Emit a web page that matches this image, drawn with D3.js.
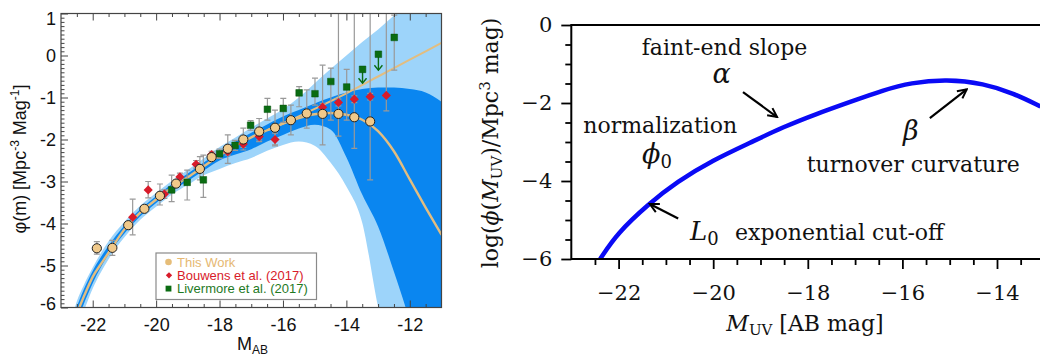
<!DOCTYPE html>
<html>
<head>
<meta charset="utf-8">
<script src="https://cdn.jsdelivr.net/npm/d3@7"></script>
<style>
  html, body { margin: 0; padding: 0; background: #fff; }
  svg { display: block; }
</style>
</head>
<body>
<svg id="chart" width="1040" height="356"></svg>
<script>
// ---------------- Left panel: UV luminosity function data ----------------
const thisWorkM   = [-21.87, -21.38, -20.88, -20.37, -19.88, -19.37, -18.62, -18.25, -17.74, -17.25, -16.75, -16.25, -15.75, -15.25, -14.75, -14.25, -13.75, -13.25];
const thisWorkPhi = [-4.59, -4.58, -4.04, -3.65, -3.34, -3.05, -2.70, -2.42, -2.22, -2.00, -1.81, -1.72, -1.54, -1.38, -1.39, -1.39, -1.47, -1.57];
const thisWorkLo  = [-4.73, -4.76, -4.12, -3.72, -3.56, -3.13, -2.96, -2.50, -2.57, -2.25, -2.05, -2.13, -1.89, -1.73, -2.13, -1.92, -2.21, -2.96];
const thisWorkHi  = [-4.43, -4.40, -3.96, -3.58, -3.06, -2.97, -2.41, -2.34, -1.89, -1.73, -1.50, -1.30, -1.18, -0.82, -0.23, 1.5, 1.5, 1.5];

const bouwensM   = [-20.74, -20.25, -19.74, -19.25, -18.74, -18.25, -17.74, -17.25, -16.75, -16.25, -14.75, -14.25, -13.75, -13.25, -12.74];
const bouwensPhi = [-3.85, -3.20, -3.30, -2.89, -2.59, -2.36, -2.29, -2.11, -1.93, -2.00, -1.23, -1.12, -1.04, -0.98, -0.95];
const bouwensLo  = [-4.27, -3.39, -3.40, -2.98, -2.68, -2.44, -2.37, -2.19, -2.01, -2.15, -1.32, -1.20, -1.12, -1.06, -1.32];
const bouwensHi  = [-3.42, -3.00, -3.20, -2.80, -2.50, -2.28, -2.21, -2.03, -1.85, -1.85, -1.14, -1.04, -0.96, -0.90, 1.5];

const livermoreM     = [-19.51, -19.02, -18.51, -18.0, -17.51, -17.02, -16.49, -15.99, -15.49, -14.99, -14.49, -13.99, -13.49, -12.99, -12.49];
const livermorePhi   = [-3.20, -3.02, -2.96, -2.34, -2.14, -1.66, -1.28, -1.26, -0.89, -0.91, -0.62, -0.75, -0.33, 0.03, 0.43];
const livermoreLo    = [-3.48, -3.44, -3.38, -2.45, -2.26, -1.78, -1.54, -1.59, -1.22, -1.18, -1.54, -1.54, null, null, -0.35];
const livermoreHi    = [-2.85, -2.73, -2.37, -2.23, -2.02, -1.55, -1.02, -1.02, -0.74, -0.54, -0.30, -0.33, null, null, 0.96];
const livermoreLimit = [null, null, null, null, null, null, null, null, null, null, null, null, -0.66, -0.35, null];

// best-fit curve with turnover, and the pure power-law continuation
const fitM   = [-22.6, -22.42, -22.2, -22.0, -21.7, -21.4, -21.0, -20.5, -20.0, -19.5, -19.0, -18.5, -18.0, -17.5, -17.0, -16.5, -16.0, -15.5, -15.0, -14.5, -14.0, -13.5, -13.0, -12.5, -12.0, -11.5, -11.0];
const fitPhi = [-6.4, -6.0, -5.6, -5.27, -4.92, -4.58, -4.14, -3.74, -3.43, -3.14, -2.90, -2.64, -2.38, -2.15, -1.95, -1.78, -1.62, -1.49, -1.40, -1.37, -1.41, -1.53, -1.80, -2.28, -2.95, -3.62, -4.27];
const powerLawM   = [-16.5, -16.0, -15.0, -14.0, -13.0, -12.0, -11.0];
const powerLawPhi = [-1.78, -1.62, -1.27, -0.90, -0.50, -0.10, 0.30];

// confidence bands (inner = 68%, outer = 95%)
const bandM   = [-22.7, -22.5, -22.3, -22.0, -21.5, -21.0, -20.5, -20.0, -19.5, -19.0, -18.5, -18.0, -17.5, -17.0, -16.5, -16.0, -15.5, -15.0, -14.5, -14.0, -13.5, -13.0, -12.5, -12.0, -11.5, -11.0];
const lightHi = [-6.4, -5.85, -5.5, -5.05, -4.42, -3.96, -3.58, -3.27, -2.98, -2.72, -2.45, -2.18, -1.95, -1.72, -1.50, -1.28, -1.00, -0.66, -0.32, 0.0, 0.32, 0.62, 0.95, 1.28, 1.6, 1.9];
const lightLo = [-7.3, -6.5, -6.12, -5.55, -4.85, -4.33, -3.91, -3.60, -3.31, -3.08, -2.85, -2.70, -2.56, -2.44, -2.27, -2.13, -2.05, -2.15, -2.55, -3.12, -3.98, -5.98, -7.5, -9, -9, -9];
const darkHi  = [-6.3, -5.97, -5.6, -5.13, -4.53, -4.05, -3.66, -3.35, -3.06, -2.81, -2.55, -2.29, -2.05, -1.84, -1.64, -1.45, -1.30, -1.14, -1.00, -0.88, -0.80, -0.76, -0.76, -0.80, -0.88, -1.10];
const darkLo  = [-7.0, -6.35, -5.95, -5.42, -4.74, -4.24, -3.83, -3.51, -3.22, -2.99, -2.74, -2.50, -2.36, -2.23, -2.05, -1.89, -1.74, -1.65, -1.76, -2.42, -3.31, -4.07, -5.15, -6.35, -8, -9];

const leftXTicks = [-22, -20, -18, -16, -14, -12];
const leftYTicks = [-6, -5, -4, -3, -2, -1, 0, 1];
const legendLabels = ["This Work", "Bouwens et al. (2017)", "Livermore et al. (2017)"];

// ---------------- Right panel: schematic luminosity function ----------------
const schemM   = [-22.39, -22.03, -21.37, -20.77, -20.0, -19.22, -18.51, -17.82, -17.10, -16.40, -15.83, -15.06, -14.28, -13.65, -13.08];
const schemPhi = [-6.0, -5.34, -4.59, -4.02, -3.46, -3.02, -2.61, -2.28, -1.97, -1.67, -1.48, -1.39, -1.50, -1.75, -2.09];
const rightXTicks = [-22, -20, -18, -16, -14];
const rightYTicks = [-6, -4, -2, 0];

const svg = d3.select("#chart");
const defs = svg.append("defs");

// ===== LEFT PANEL =====
const sans = "'Liberation Sans', Arial, Helvetica, sans-serif";
const xL = d3.scaleLinear().domain([-23, -11]).range([61, 441.5]);
const yL = d3.scaleLinear().domain([-6, 1]).range([307.5, 13.5]);

defs.append("clipPath").attr("id", "clipL")
  .append("rect").attr("x", xL(-23)).attr("y", yL(1))
  .attr("width", xL(-11) - xL(-23)).attr("height", yL(-6) - yL(1));

const gL = svg.append("g");
const plotL = gL.append("g").attr("clip-path", "url(#clipL)");

function band(hi, lo) {
  return d3.area()
    .x((d, i) => xL(bandM[i]))
    .y0((d, i) => yL(lo[i]))
    .y1((d, i) => yL(hi[i]))
    .curve(d3.curveMonotoneX)(bandM);
}
plotL.append("path").attr("d", band(lightHi, lightLo)).attr("fill", "#9dd4fa");
plotL.append("path").attr("d", band(darkHi, darkLo)).attr("fill", "#0a86f0");

const lineL = d3.line().x(d => xL(d[0])).y(d => yL(d[1])).curve(d3.curveMonotoneX);
plotL.append("path").datum(powerLawM.map((m, i) => [m, powerLawPhi[i]]))
  .attr("d", lineL).attr("fill", "none").attr("stroke", "#e2bd80").attr("stroke-width", 2);
plotL.append("path").datum(fitM.map((m, i) => [m, fitPhi[i]]))
  .attr("d", lineL).attr("fill", "none").attr("stroke", "#e2bd80").attr("stroke-width", 2.4);

// error bars
function errorBars(M, lo, hi) {
  const g = plotL.append("g").attr("stroke", "#999").attr("stroke-width", 1.2);
  M.forEach((m, i) => {
    if (lo[i] == null) return;
    const x = xL(m);
    g.append("line").attr("x1", x).attr("x2", x).attr("y1", yL(lo[i])).attr("y2", yL(hi[i]));
    [lo[i], hi[i]].forEach(v => {
      if (v <= 1) g.append("line").attr("x1", x - 3).attr("x2", x + 3).attr("y1", yL(v)).attr("y2", yL(v));
    });
  });
}
errorBars(thisWorkM, thisWorkLo, thisWorkHi);
errorBars(bouwensM, bouwensLo, bouwensHi);
errorBars(livermoreM, livermoreLo, livermoreHi);

// upper limits (arrows) for Livermore
const green = "#0a6c12", red = "#d81b2a", tan = "#f0c98a";
const lim = plotL.append("g").attr("stroke", green).attr("stroke-width", 1.4).attr("fill", "none");
livermoreM.forEach((m, i) => {
  if (livermoreLimit[i] == null) return;
  const x = xL(m), y0 = yL(livermorePhi[i]), y1 = yL(livermoreLimit[i]);
  lim.append("line").attr("x1", x).attr("x2", x).attr("y1", y0).attr("y2", y1);
  lim.append("path").attr("d", `M${x - 4},${y1 - 5}L${x},${y1}L${x + 4},${y1 - 5}`);
});

// markers
plotL.append("g").selectAll("path").data(livermoreM).join("path")
  .attr("d", d3.symbol(d3.symbolSquare, 44)())
  .attr("transform", (d, i) => `translate(${xL(d)},${yL(livermorePhi[i])})`)
  .attr("fill", green).attr("stroke", "#05500a").attr("stroke-width", 0.5);
plotL.append("g").selectAll("path").data(bouwensM).join("path")
  .attr("d", d3.symbol(d3.symbolSquare, 42)())
  .attr("transform", (d, i) => `translate(${xL(d)},${yL(bouwensPhi[i])}) rotate(45)`)
  .attr("fill", red);
plotL.append("g").selectAll("circle").data(thisWorkM).join("circle")
  .attr("cx", d => xL(d)).attr("cy", (d, i) => yL(thisWorkPhi[i])).attr("r", 4.6)
  .attr("fill", tan).attr("stroke", "#222").attr("stroke-width", 1);

// axes (ticks inside the frame)
const axisColor = "#444";
function styleAxis(g) {
  g.select(".domain").remove();
  g.selectAll(".tick line").attr("stroke", axisColor).attr("stroke-width", 1);
  g.selectAll("text").attr("font-family", sans).attr("font-size", 18).attr("fill", "#111");
}
const minorX = d3.range(-22.5, -11, 0.5).filter(v => Math.abs(v % 2) > 1e-6);
const minorY = d3.range(-59, 10, 1).map(v => v / 10).filter(v => Math.abs(v - Math.round(v)) > 1e-6);

gL.append("g").attr("transform", `translate(0,${yL(-6)})`)
  .call(d3.axisBottom(xL).tickValues(minorX).tickSize(-3.5).tickFormat("")).call(styleAxis);
gL.append("g").attr("transform", `translate(0,${yL(-6)})`)
  .call(d3.axisBottom(xL).tickValues(leftXTicks).tickSize(-7).tickPadding(11).tickFormat(d => String(d))).call(styleAxis);
gL.append("g").attr("transform", `translate(0,${yL(1)})`)
  .call(d3.axisTop(xL).tickValues(minorX).tickSize(-3.5).tickFormat("")).call(styleAxis);
gL.append("g").attr("transform", `translate(0,${yL(1)})`)
  .call(d3.axisTop(xL).tickValues(leftXTicks).tickSize(-7).tickFormat("")).call(styleAxis);
gL.append("g").attr("transform", `translate(${xL(-23)},0)`)
  .call(d3.axisLeft(yL).tickValues(minorY).tickSize(-3.5).tickFormat("")).call(styleAxis);
const yAxL = gL.append("g").attr("transform", `translate(${xL(-23)},0)`)
  .call(d3.axisLeft(yL).tickValues(leftYTicks).tickSize(-7).tickPadding(5).tickFormat(d => String(d))).call(styleAxis);
// keep the end labels inside the frame height
yAxL.selectAll("text").attr("y", d => d === 1 ? 4.8 : (d === -6 ? -4 : 0));

gL.append("rect").attr("x", xL(-23)).attr("y", yL(1))
  .attr("width", xL(-11) - xL(-23)).attr("height", yL(-6) - yL(1))
  .attr("fill", "none").attr("stroke", axisColor).attr("stroke-width", 1.2);

// axis titles
const xt = gL.append("text").attr("x", 237).attr("y", 350)
  .attr("font-family", sans).attr("font-size", 18).attr("fill", "#111");
xt.append("tspan").text("M");
xt.append("tspan").attr("font-size", 12).attr("dy", 4).text("AB");

const yt = gL.append("text").attr("transform", "translate(26,159) rotate(-90)")
  .attr("text-anchor", "middle").attr("font-family", sans).attr("font-size", 18).attr("fill", "#111");
yt.append("tspan").text("φ(m) [Mpc");
yt.append("tspan").attr("font-size", 12).attr("dy", -7).text("-3");
yt.append("tspan").attr("dy", 7).text(" Mag");
yt.append("tspan").attr("font-size", 12).attr("dy", -7).text("-1");
yt.append("tspan").attr("dy", 7).text("]");

// legend
const lg = gL.append("g");
lg.append("rect").attr("x", 156).attr("y", 253).attr("width", 160.5).attr("height", 46.5)
  .attr("fill", "#fff").attr("stroke", "#8a8a8a").attr("stroke-width", 1.2);
const legendColors = ["#e6b872", red, "#1f7a1f"];
legendLabels.forEach((lab, i) => {
  const cy = 262 + i * 13.3;
  if (i === 0) lg.append("circle").attr("cx", 168.5).attr("cy", cy).attr("r", 3.3).attr("fill", "#e6bd78");
  if (i === 1) lg.append("path").attr("d", d3.symbol(d3.symbolSquare, 20)())
    .attr("transform", `translate(169,${cy}) rotate(45)`).attr("fill", red);
  if (i === 2) lg.append("path").attr("d", d3.symbol(d3.symbolSquare, 34)())
    .attr("transform", `translate(168.5,${cy})`).attr("fill", green);
  lg.append("text").attr("x", 177).attr("y", cy + 4.8).attr("font-family", sans)
    .attr("font-size", 13).attr("fill", legendColors[i]).text(lab);
});

// ===== RIGHT PANEL =====
const serif = "'DejaVu Serif', 'Liberation Serif', serif";
const xR = d3.scaleLinear().domain([-23, -13]).range([571.3, 1044.3]);
const yR = d3.scaleLinear().domain([-6, 0]).range([259, 25]);
const gR = svg.append("g");

defs.append("clipPath").attr("id", "clipR")
  .append("rect").attr("x", xR(-23)).attr("y", yR(0)).attr("width", 1040 - xR(-23)).attr("height", yR(-6) - yR(0));

gR.append("g").attr("clip-path", "url(#clipR)").append("path")
  .datum(schemM.map((m, i) => [m, schemPhi[i]]))
  .attr("d", d3.line().x(d => xR(d[0])).y(d => yR(d[1])).curve(d3.curveBasis))
  .attr("fill", "none").attr("stroke", "#0a0af5").attr("stroke-width", 4.5);

function styleR(g) {
  g.select(".domain").remove();
  g.selectAll(".tick line").attr("stroke", "#000").attr("stroke-width", 1.8);
  g.selectAll("text").attr("font-family", serif).attr("font-size", 21).attr("fill", "#111");
}
const minorXR = d3.range(-22.5, -12.9, 0.5).filter(v => Math.abs(v % 2) > 1e-6);
const minorYR = d3.range(-5.5, 0, 0.5).filter(v => Math.abs(v % 2) > 1e-6);
gR.append("g").attr("transform", `translate(0,${yR(-6)})`)
  .call(d3.axisBottom(xR).tickValues(minorXR).tickSize(6).tickFormat("")).call(styleR);
gR.append("g").attr("transform", `translate(0,${yR(-6)})`)
  .call(d3.axisBottom(xR).tickValues(rightXTicks).tickSize(10).tickPadding(16)).call(styleR);
gR.append("g").attr("transform", `translate(${xR(-23)},0)`)
  .call(d3.axisLeft(yR).tickValues(minorYR).tickSize(6).tickFormat("")).call(styleR);
gR.append("g").attr("transform", `translate(${xR(-23)},0)`)
  .call(d3.axisLeft(yR).tickValues(rightYTicks).tickSize(10).tickPadding(9)
    .tickFormat(d => d === 0 ? "0" : d3.format("d")(d))).call(styleR);

// frame (left, top, bottom)
gR.append("path")
  .attr("d", `M1040,${yR(0)}H${xR(-23)}V${yR(-6)}H1040`)
  .attr("fill", "none").attr("stroke", "#000").attr("stroke-width", 2);

// axis titles
const xtR = gR.append("text").attr("x", 805).attr("y", 331).attr("text-anchor", "middle")
  .attr("font-family", serif).attr("font-size", 22).attr("fill", "#111");
xtR.append("tspan").attr("font-style", "italic").text("M");
xtR.append("tspan").attr("font-size", 15).attr("dy", 4).text("UV");
xtR.append("tspan").attr("dy", -4).text(" [AB mag]");

const ytR = gR.append("text").attr("transform", "translate(498,143) rotate(-90)")
  .attr("text-anchor", "middle").attr("font-family", serif).attr("font-size", 22).attr("fill", "#111");
ytR.append("tspan").text("log(");
ytR.append("tspan").attr("font-style", "italic").text("ϕ");
ytR.append("tspan").text("(");
ytR.append("tspan").attr("font-style", "italic").text("M");
ytR.append("tspan").attr("font-size", 15).attr("dy", 4).text("UV");
ytR.append("tspan").attr("dy", -4).text(")/Mpc");
ytR.append("tspan").attr("font-size", 15).attr("dy", -8).text("3");
ytR.append("tspan").attr("dy", 8).text(" mag)");

// annotations
function note(m, v, anchor, parts) {
  const t = gR.append("text").attr("x", xR(m)).attr("y", yR(v)).attr("text-anchor", anchor)
    .attr("font-family", serif).attr("fill", "#111");
  parts.forEach(p => {
    const s = t.append("tspan").text(p.text).attr("font-size", p.size || 22);
    if (p.italic) s.attr("font-style", "italic");
    if (p.dy) s.attr("dy", p.dy);
  });
  return t;
}
note(-19.76, -0.77, "middle", [{ text: "faint-end slope" }]);
note(-19.82, -1.49, "middle", [{ text: "α", italic: true, size: 27 }]);
note(-21.12, -2.77, "middle", [{ text: "normalization" }]);
note(-21.19, -3.54, "middle", [{ text: "ϕ", italic: true, size: 27 }, { text: "0", size: 18, dy: 5 }]);
note(-20.49, -5.51, "start", [{ text: "L", italic: true, size: 26 }, { text: "0", size: 18, dy: 5 }]);
note(-19.54, -5.51, "start", [{ text: "exponential cut-off" }]);
note(-15.82, -2.95, "middle", [{ text: "β", italic: true, size: 27 }]);
note(-15.77, -3.77, "middle", [{ text: "turnover curvature" }]);

defs.append("marker").attr("id", "arrowHead").attr("viewBox", "0 0 12 12")
  .attr("refX", 10.5).attr("refY", 6).attr("markerWidth", 12).attr("markerHeight", 12)
  .attr("markerUnits", "userSpaceOnUse").attr("orient", "auto")
  .append("path").attr("d", "M1.5,1.5L10.5,6L1.5,10.5").attr("fill", "none")
  .attr("stroke", "#000").attr("stroke-width", 2);

const arrowFrom = [[-19.37, -1.72], [-20.74, -4.96], [-15.42, -2.39]];
const arrowTo   = [[-18.65, -2.36], [-21.34, -4.59], [-14.64, -1.65]];
arrowFrom.forEach((a, i) => {
  gR.append("line").attr("x1", xR(a[0])).attr("y1", yR(a[1]))
    .attr("x2", xR(arrowTo[i][0])).attr("y2", yR(arrowTo[i][1]))
    .attr("stroke", "#000").attr("stroke-width", 2.2).attr("marker-end", "url(#arrowHead)");
});
</script>
</body>
</html>
